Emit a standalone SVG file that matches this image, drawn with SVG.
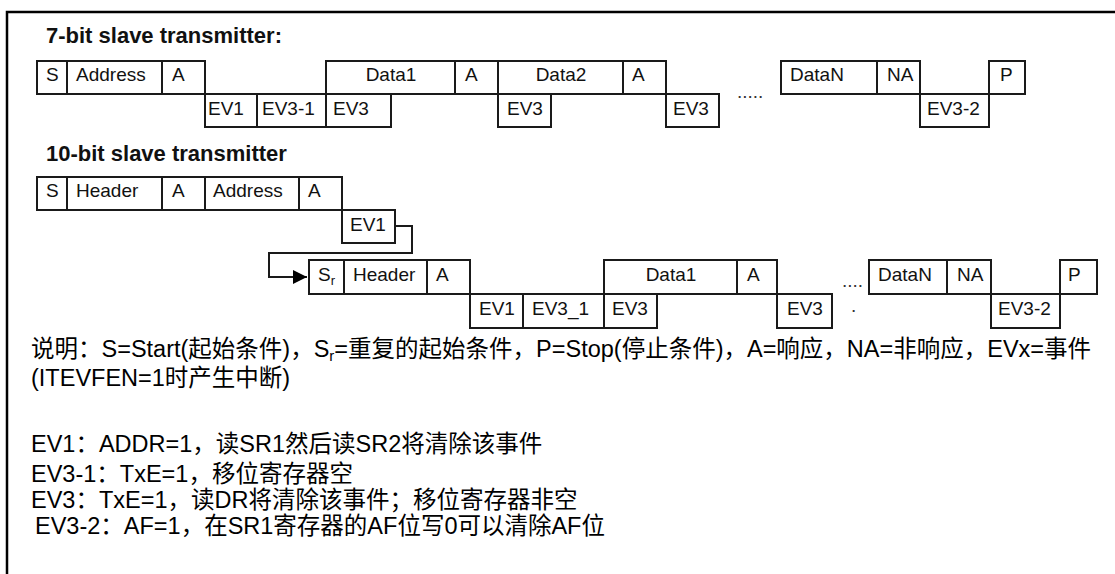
<svg xmlns="http://www.w3.org/2000/svg" width="1115" height="574" viewBox="0 0 1115 574">
<style>
.c{fill:none;stroke:#1a1a1a;stroke-width:2}
.t{font-family:"Liberation Sans",Arial,sans-serif;font-size:19px;fill:#111}
.m{text-anchor:middle}
.h{font-family:"Liberation Sans",Arial,sans-serif;font-size:22px;font-weight:bold;fill:#111}
.l{font-family:"Liberation Sans","Noto Sans CJK SC",sans-serif;font-size:23.5px;fill:#000}
.dots{font-family:"Liberation Sans",Arial,sans-serif;font-size:19px;fill:#333}
</style>
<defs>
<marker id="arr" viewBox="0 0 14 14" refX="14" refY="7" markerWidth="14" markerHeight="14" markerUnits="userSpaceOnUse" orient="auto">
<path d="M0,0 L14,7 L0,14 Z" fill="#000"/>
</marker>
</defs>
<rect x="0" y="0" width="1115" height="574" fill="#fff"/>
<rect x="7" y="12" width="1120" height="575" fill="none" stroke="#000" stroke-width="2.5"/>

<text class="h" x="46" y="43">7-bit slave transmitter:</text>
<text class="h" x="46" y="161">10-bit slave transmitter</text>

<!-- 7-bit row -->
<g id="n7-S"><rect class="c" x="37" y="61" width="30" height="33"/><text class="t" x="46" y="81">S</text></g>
<g id="n7-Address"><rect class="c" x="67" y="61" width="95" height="33"/><text class="t" x="76" y="81">Address</text></g>
<g id="n7-A1"><rect class="c" x="162" y="61" width="43" height="33"/><text class="t" x="172" y="81">A</text></g>
<g id="n7-EV1"><rect class="c" x="205" y="94" width="52" height="33"/><text class="t" x="208" y="115">EV1</text></g>
<g id="n7-EV3-1"><rect class="c" x="257" y="94" width="69" height="33"/><text class="t" x="262" y="115">EV3-1</text></g>
<g id="n7-Data1"><rect class="c" x="326" y="61" width="129" height="33"/><text class="t m" x="391" y="81">Data1</text></g>
<g id="n7-EV3a"><rect class="c" x="326" y="94" width="65" height="33"/><text class="t" x="333" y="115">EV3</text></g>
<g id="n7-A2"><rect class="c" x="455" y="61" width="43" height="33"/><text class="t" x="465" y="81">A</text></g>
<g id="n7-Data2"><rect class="c" x="498" y="61" width="125" height="33"/><text class="t m" x="561" y="81">Data2</text></g>
<g id="n7-EV3b"><rect class="c" x="498" y="94" width="53" height="33"/><text class="t" x="507" y="115">EV3</text></g>
<g id="n7-A3"><rect class="c" x="623" y="61" width="43" height="33"/><text class="t" x="632" y="81">A</text></g>
<g id="n7-EV3c"><rect class="c" x="666" y="94" width="53" height="33"/><text class="t" x="673" y="115">EV3</text></g>
<text class="dots" x="737" y="98">.....</text>
<g id="n7-DataN"><rect class="c" x="781" y="61" width="96" height="33"/><text class="t" x="790" y="81">DataN</text></g>
<g id="n7-NA"><rect class="c" x="877" y="61" width="43" height="33"/><text class="t" x="887" y="81">NA</text></g>
<g id="n7-EV3-2"><rect class="c" x="920" y="94" width="69" height="33"/><text class="t" x="927" y="115">EV3-2</text></g>
<g id="n7-P"><rect class="c" x="989" y="61" width="36" height="33"/><text class="t" x="1000" y="81">P</text></g>

<!-- 10-bit row 1 -->
<g id="n10-S"><rect class="c" x="37" y="177" width="30" height="33"/><text class="t" x="46" y="197">S</text></g>
<g id="n10-Header"><rect class="c" x="67" y="177" width="95" height="33"/><text class="t" x="76" y="197">Header</text></g>
<g id="n10-A1"><rect class="c" x="162" y="177" width="43" height="33"/><text class="t" x="172" y="197">A</text></g>
<g id="n10-Address"><rect class="c" x="205" y="177" width="94" height="33"/><text class="t" x="213" y="197">Address</text></g>
<g id="n10-A2"><rect class="c" x="299" y="177" width="43" height="33"/><text class="t" x="308" y="197">A</text></g>
<g id="n10-EV1a"><rect class="c" x="342" y="210" width="53" height="33"/><text class="t" x="350" y="231">EV1</text></g>

<!-- 10-bit row 2 -->
<g id="n10-Sr"><rect class="c" x="309" y="260" width="35" height="34"/><text class="t" x="318" y="281">S<tspan font-size="13" dy="4">r</tspan></text></g>
<g id="n10-Header2"><rect class="c" x="344" y="260" width="83" height="34"/><text class="t" x="353" y="281">Header</text></g>
<g id="n10-A3"><rect class="c" x="427" y="260" width="43" height="34"/><text class="t" x="436" y="281">A</text></g>
<g id="n10-EV1b"><rect class="c" x="470" y="294" width="53" height="34"/><text class="t" x="479" y="315">EV1</text></g>
<g id="n10-EV3_1"><rect class="c" x="523" y="294" width="81" height="34"/><text class="t" x="532" y="315">EV3_1</text></g>
<g id="n10-Data1"><rect class="c" x="604" y="260" width="133" height="34"/><text class="t m" x="671" y="281">Data1</text></g>
<g id="n10-EV3a"><rect class="c" x="604" y="294" width="53" height="34"/><text class="t" x="612" y="315">EV3</text></g>
<g id="n10-A4"><rect class="c" x="737" y="260" width="40" height="34"/><text class="t" x="747" y="281">A</text></g>
<g id="n10-EV3b"><rect class="c" x="777" y="294" width="55" height="34"/><text class="t" x="787" y="315">EV3</text></g>
<text class="dots" x="842" y="287">....</text>
<text class="dots" x="851" y="312">.</text>
<g id="n10-DataN"><rect class="c" x="869" y="260" width="78" height="34"/><text class="t" x="878" y="281">DataN</text></g>
<g id="n10-NA"><rect class="c" x="947" y="260" width="44" height="34"/><text class="t" x="957" y="281">NA</text></g>
<g id="n10-EV3-2"><rect class="c" x="991" y="294" width="69" height="34"/><text class="t" x="998" y="315">EV3-2</text></g>
<g id="n10-P"><rect class="c" x="1060" y="260" width="37" height="34"/><text class="t" x="1068" y="281">P</text></g>

<g id="connectors">
<path class="c" d="M395,226 H412 V253 H269 V277 H307" marker-end="url(#arr)"/>
</g>

<!-- legend -->
<g id="legend">
<text class="l" x="31" y="357">说明：S=Start(起始条件)，S<tspan font-size="15" dy="4">r</tspan><tspan dy="-4">=重复的起始条件，P=Stop(停止条件)，A=响应，NA=非响应，EVx=事件</tspan></text>
<text class="l" x="31" y="386">(ITEVFEN=1时产生中断)</text>
<text class="l" x="31" y="452">EV1：ADDR=1，读SR1然后读SR2将清除该事件</text>
<text class="l" x="31" y="482">EV3-1：TxE=1，移位寄存器空</text>
<text class="l" x="31" y="508">EV3：TxE=1，读DR将清除该事件；移位寄存器非空</text>
<text class="l" x="35" y="534">EV3-2：AF=1，在SR1寄存器的AF位写0可以清除AF位</text>
</g>
</svg>
